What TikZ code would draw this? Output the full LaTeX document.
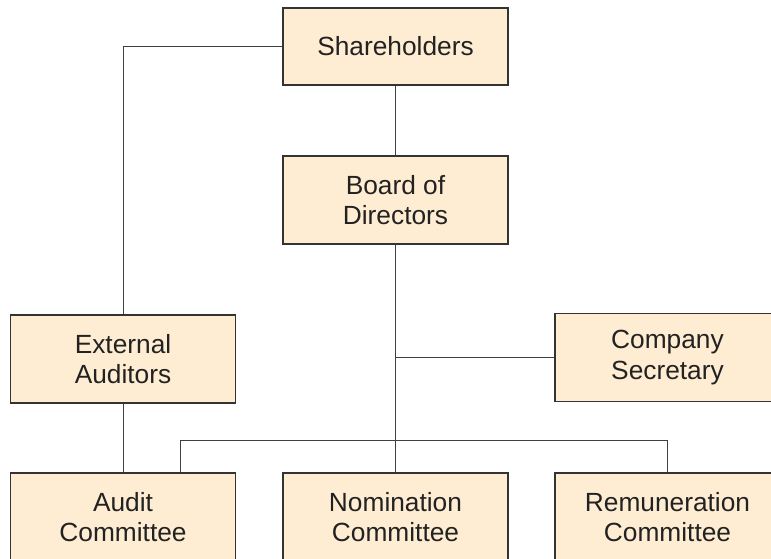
\documentclass[tikz,border=0pt]{standalone}
\usepackage{fontspec}
\setmainfont{Liberation Sans}
\definecolor{boxfill}{HTML}{FEEDD2}
\definecolor{boxline}{HTML}{333333}
\definecolor{conn}{HTML}{404040}
\definecolor{txt}{HTML}{222222}
\begin{document}
\begin{tikzpicture}[x=1pt,y=-1pt,
  orgbox/.style={draw=boxline,fill=boxfill,line width=1.1pt,rectangle,minimum width=225pt,minimum height=88pt,align=center,inner sep=0pt,font=\fontsize{26.3pt}{30.5pt}\selectfont,text=txt},
  link/.style={draw=conn,line width=1pt}]
\useasboundingbox[fill=white] (0,0) rectangle (771,558);
\node[orgbox,minimum height=77pt] (sh) at (395.5,46.5) {Shareholders};
\node[orgbox] (bd) at (395.5,200) {Board of\\Directors};
\node[orgbox] (ea) at (123,359) {External\\Auditors};
\node[orgbox] (cs) at (667.5,357.5) {Company\\Secretary};
\node[orgbox] (ac) at (123,517) {Audit\\Committee};
\node[orgbox] (nc) at (395.5,517) {Nomination\\Committee};
\node[orgbox] (rc) at (667.5,517) {Remuneration\\Committee};
\coordinate (hb) at (395.5,440);
\draw[link] (sh.west) -| (ea.north);
\draw[link] (sh.south) -- (bd.north);
\draw[link] (bd.south) -- (nc.north);
\draw[link] (cs.west) -- (cs.west -| bd.south);
\draw[link] (ea.south) -- (ac.north);
\draw[link] ([xshift=57pt]ac.north) |- (hb) -| (rc.north);
\end{tikzpicture}
\end{document}
